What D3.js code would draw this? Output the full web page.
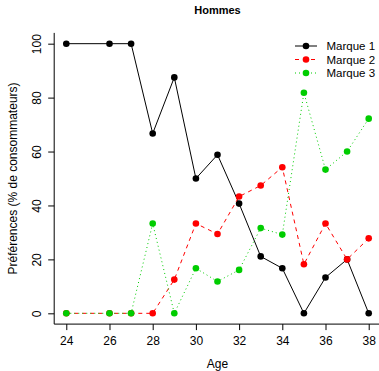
<!DOCTYPE html>
<html><head><meta charset="utf-8">
<script src="https://cdn.jsdelivr.net/npm/d3@7"></script>
<style>body{margin:0;background:#fff}svg{display:block}text{font-family:"Liberation Sans",Arial,Helvetica,sans-serif}</style>
</head><body>
<script>
const ages = [24, 26, 27, 28, 29, 30, 31, 32, 33, 34, 35, 36, 37, 38];
const marque1 = [100, 100, 100, 66.7, 87.5, 50, 58.8, 40.7, 21.1, 16.7, 0, 13.3, 20, 0];
const marque2 = [0, 0, 0, 0, 12.5, 33.3, 29.4, 43.3, 47.4, 54.2, 18.2, 33.3, 20, 27.8];
const marque3 = [0, 0, 0, 33.3, 0, 16.7, 11.8, 16.1, 31.6, 29.2, 81.8, 53.3, 60, 72.2];
const seriesNames = ["Marque 1", "Marque 2", "Marque 3"];
const xTicks = [24, 26, 28, 30, 32, 34, 36, 38];
const yTicks = [0, 20, 40, 60, 80, 100];
const title = "Hommes";
const xLabel = "Age";
const yLabel = "Préférences (% de consommateurs)";

const W = 379, H = 371;
const svg = d3.select("body").append("svg").attr("width", W).attr("height", H);

const x = d3.scaleLinear().domain([23.44, 38.56]).range([54.2, 380.8]);
const y = d3.scaleLinear().domain([-4, 104]).range([324.1, 32.9]);

const styles = [
  {color: "#000000", dash: null},
  {color: "#FF0000", dash: "4,4"},
  {color: "#00CD00", dash: "1,3"}
];
const seriesVals = [marque1, marque2, marque3];

// axes (L box)
const g = svg.append("g");
g.append("path").attr("d", `M${x.range()[0]},${y.range()[1]}V${y.range()[0]}H${x.range()[1]}`)
  .attr("fill", "none").attr("stroke", "#000").attr("stroke-width", 1);

const xAxis = d3.axisBottom(x).tickValues(xTicks).tickSize(6).tickPadding(4).tickFormat(d3.format("d"));
const xg = svg.append("g").attr("transform", `translate(0,${y.range()[0]})`).call(xAxis);
xg.select(".domain").remove();
xg.selectAll("text").attr("font-size", 12).attr("font-family", "Liberation Sans, Arial, sans-serif").attr("fill", "#000").attr("dy", "0.95em");

const yAxis = d3.axisLeft(y).tickValues(yTicks).tickSize(6).tickFormat(d3.format("d"));
const yg = svg.append("g").attr("transform", `translate(${x.range()[0]},0)`).call(yAxis);
yg.select(".domain").remove();
yg.selectAll("text").remove();
yg.selectAll(".tick").append("text")
  .attr("transform", "translate(-17.5,0) rotate(-90)")
  .attr("text-anchor", "middle").attr("font-size", 12).attr("fill", "#000")
  .attr("dy", "0.35em").text(d => d);

// labels
svg.append("text").attr("x", 217.5).attr("y", 14).attr("text-anchor", "middle")
  .attr("font-weight", "bold").attr("font-size", 11).text(title);
svg.append("text").attr("x", 217.5).attr("y", 368).attr("text-anchor", "middle")
  .attr("font-size", 12).text(xLabel);
svg.append("text").attr("transform", `translate(17,${(y.range()[0]+y.range()[1])/2}) rotate(-90)`)
  .attr("text-anchor", "middle").attr("font-size", 12).text(yLabel);

// series
const line = d3.line().x((d, i) => x(ages[i])).y(d => y(d));
seriesVals.forEach((vals, k) => {
  const sg = svg.append("g");
  sg.append("path").datum(vals).attr("d", line).attr("fill", "none")
    .attr("stroke", styles[k].color).attr("stroke-width", 1)
    .attr("stroke-dasharray", styles[k].dash);
  sg.selectAll("circle").data(vals).join("circle")
    .attr("cx", (d, i) => x(ages[i])).attr("cy", d => y(d)).attr("r", 3.3)
    .attr("fill", styles[k].color);
});

// legend
const lg = svg.append("g");
seriesNames.forEach((name, k) => {
  const yy = 46 + k * 13.5;
  lg.append("line").attr("x1", 295).attr("x2", 317).attr("y1", yy).attr("y2", yy)
    .attr("stroke", styles[k].color).attr("stroke-width", 1).attr("stroke-dasharray", styles[k].dash);
  lg.append("circle").attr("cx", 306).attr("cy", yy).attr("r", 3.3).attr("fill", styles[k].color);
  lg.append("text").attr("x", 326.5).attr("y", yy).attr("dy", "0.35em")
    .attr("font-size", 11.5).text(name);
});
</script>
</body></html>
